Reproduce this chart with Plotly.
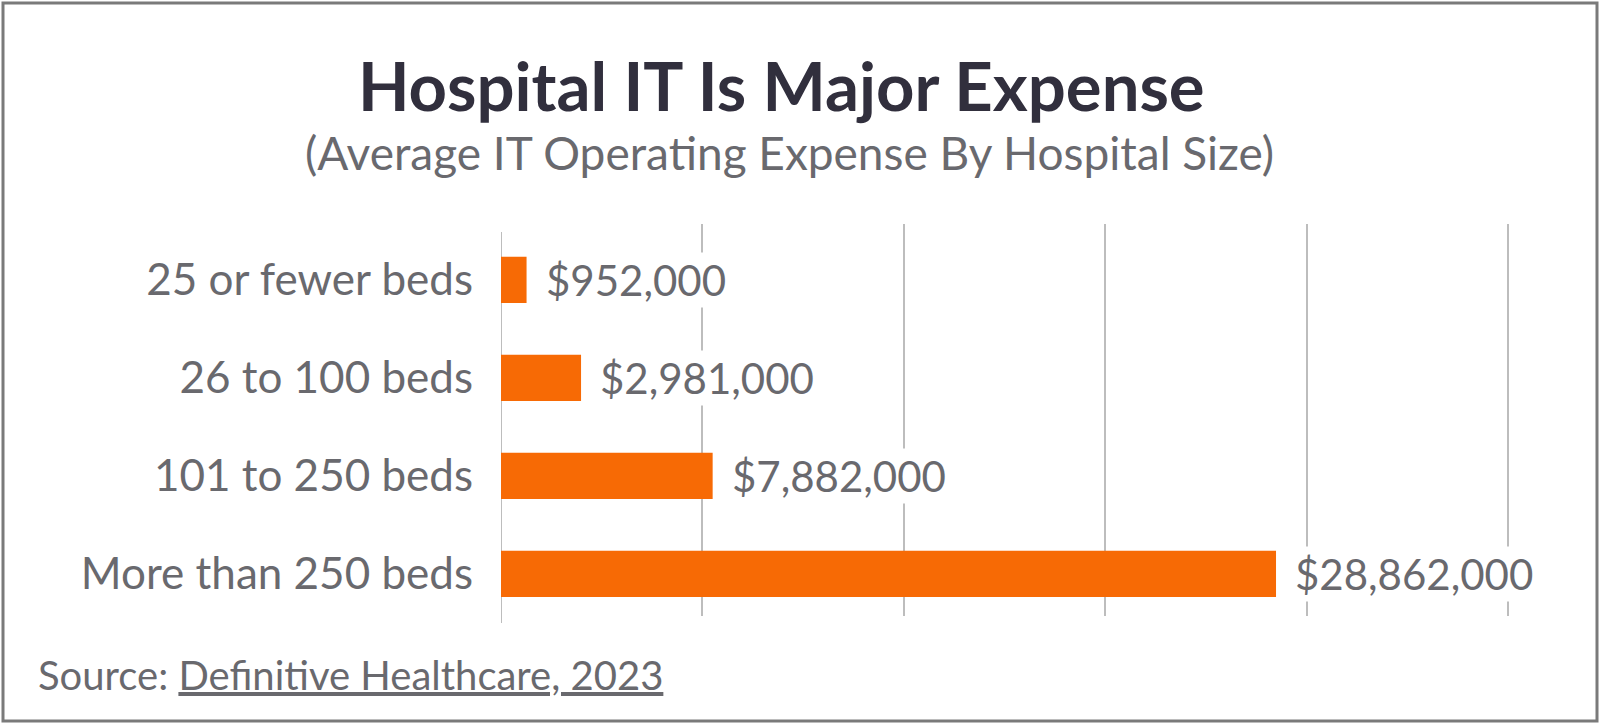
import plotly.graph_objects as go

# data
categories = ["25 or fewer beds", "26 to 100 beds", "101 to 250 beds", "More than 250 beds"]
expense = [952000, 2981000, 7882000, 28862000]
grid_step = 7500000
grid_count = 5

title = "Hospital IT Is Major Expense"
subtitle = "(Average IT Operating Expense By Hospital Size)"
source = "Source: <u>Definitive Healthcare, 2023</u>"

W, H = 1600, 725
L, R_EDGE, T, B = 501, 1511, 224, 616   # plot area in pixels

BAR = "#F76A05"
DARK = "#312F3D"
GRAY = "#69696E"
GRID = "#BDBDBD"


def px(x):
    return (x - L) / (R_EDGE - L)


def py(y):
    return (B - y) / (B - T)


fig = go.Figure()
fig.add_trace(go.Bar(
    x=expense, y=categories, orientation="h",
    marker=dict(color=BAR, line=dict(width=0)),
    hoverinfo="skip",
))

# value labels with white background, they cut through the grid lines
for v, c in zip(expense, categories):
    fig.add_annotation(
        x=v, y=c, xref="x", yref="y", text=f"${v:,}",
        xanchor="left", yanchor="middle", xshift=16, showarrow=False,
        bgcolor="white", borderpad=2,
        font=dict(family="Lato", size=42, color=GRAY),
    )

fig.add_annotation(x=px(781), y=py(85), xref="paper", yref="paper", text=title,
                   showarrow=False, xanchor="center", yanchor="middle",
                   font=dict(family="Lato", size=67, color=DARK, weight="bold"))
fig.add_annotation(x=px(789), y=py(152), xref="paper", yref="paper", text=subtitle,
                   showarrow=False, xanchor="center", yanchor="middle",
                   font=dict(family="Lato", size=46, color=GRAY))
fig.add_annotation(x=px(36), y=py(675), xref="paper", yref="paper", text=source,
                   showarrow=False, xanchor="left", yanchor="middle",
                   font=dict(family="Lato", size=40, color=GRAY))

# vertical base line at zero
fig.add_shape(type="line", xref="x", yref="paper", x0=0, x1=0, y0=py(232), y1=py(623),
              line=dict(color=GRID, width=2), layer="below")
# outer frame
fig.add_shape(type="rect", xref="paper", yref="paper",
              x0=px(3), x1=px(1597), y0=py(3), y1=py(721),
              line=dict(color="#7A7A7A", width=3))

fig.update_layout(
    width=W, height=H,
    margin=dict(l=L, r=W - R_EDGE, t=T, b=H - B, pad=0),
    paper_bgcolor="white", plot_bgcolor="white",
    showlegend=False, bargap=0.53,
    xaxis=dict(
        range=[0, grid_step * grid_count * 1.003],
        tickvals=[grid_step * (i + 1) for i in range(grid_count)],
        showticklabels=False, showgrid=True, gridcolor=GRID, gridwidth=2,
        zeroline=False, showline=False, ticks="",
    ),
    yaxis=dict(
        categoryorder="array", categoryarray=categories,
        range=[3.43, -0.57], showgrid=False, zeroline=False, showline=False,
        ticks="", ticklabelstandoff=27,
        tickfont=dict(family="Lato", size=44, color=GRAY),
    ),
)

# drop the default page margin so the figure sits flush in the window
fig.write_html(
    "out.html",
    config={"displayModeBar": False},
    post_script="document.body.style.margin='0';document.body.style.overflow='hidden';",
)
